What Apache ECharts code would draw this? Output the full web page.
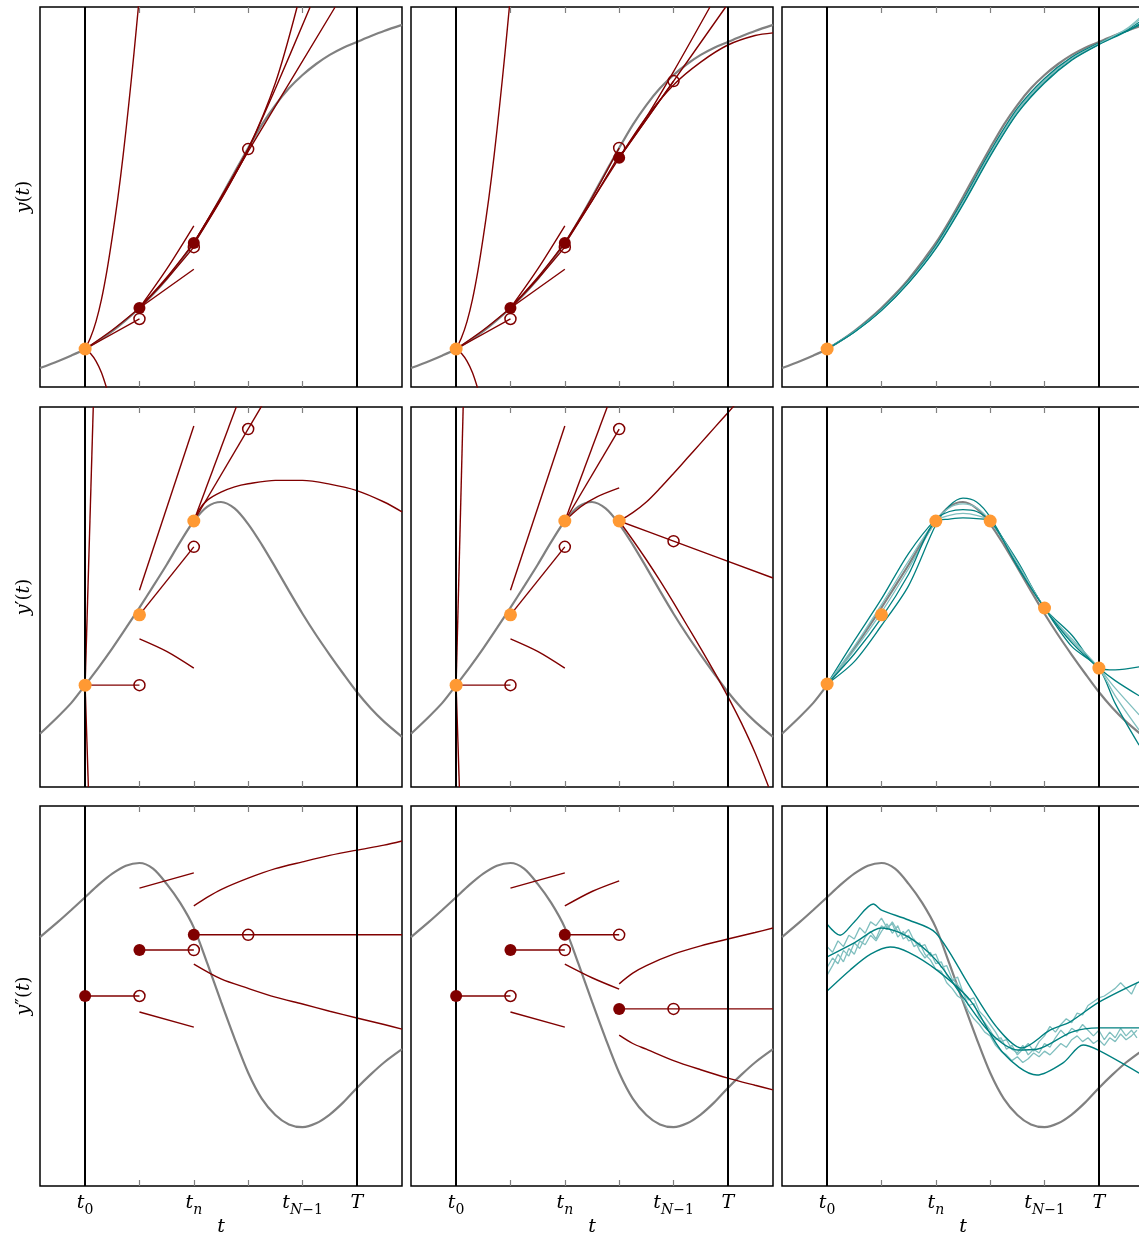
<!DOCTYPE html>
<html><head><meta charset="utf-8">
<script src="https://cdn.jsdelivr.net/npm/echarts@6/dist/echarts.min.js"></script>
<style>html,body{margin:0;padding:0;background:#fff}#c{width:1139px;height:1233px}</style>
</head><body><div id="c"></div>
<script>
// ---------- axis / label data ----------
const tRange = [-0.83, 5.83];
const tickValues = [1, 2, 3, 4];
const labelValues = [0, 2, 4, 5];
const tickLabels = ['{i|t}{s|0}', '{i|t}{si|n}', '{i|t}{si|N}{s|−1}', '{i|T}'];
const boundaryT = [0, 5];
const yNames = ['{i|y}{n|(}{i|t}{n|)}', '{i|y}{n|′(}{i|t}{n|)}', '{i|y}{n|″(}{i|t}{n|)}'];

// ---------- true solution (gray) ----------
const grayT  = [-0.83,-0.5,-0.25,0,0.25,0.5,0.75,1,1.25,1.5,1.75,2,2.25,2.5,2.75,3,3.25,3.5,3.75,4,4.25,4.5,4.75,5,5.25,5.5,5.83];
const grayY  = [0.50,0.68,0.83,1.0,1.22,1.47,1.76,2.08,2.44,2.84,3.3,3.79,4.37,5.0,5.65,6.29,6.9,7.42,7.86,8.21,8.5,8.74,8.93,9.08,9.23,9.37,9.53];
const grayDY = [1.40,1.85,2.22,2.68,3.15,3.65,4.18,4.72,5.28,5.85,6.45,7.0,7.38,7.5,7.33,6.92,6.38,5.78,5.16,4.56,4.0,3.48,2.98,2.5,2.08,1.72,1.32];
const grayDDY= [6.55,6.95,7.27,7.6,7.93,8.22,8.43,8.5,8.35,7.95,7.45,6.8,5.85,4.85,3.88,2.98,2.3,1.87,1.62,1.55,1.65,1.88,2.2,2.58,2.93,3.25,3.6];

// ---------- row 1 (y), column 1 ----------
const red00 = [
  [[0,1.0],[0.1,1.3],[0.2,1.72],[0.3,2.3],[0.4,3.05],[0.5,3.95],[0.6,4.95],[0.7,6.1],[0.8,7.4],[0.9,8.8],[1.0,10.3]],
  [[0,1.0],[0.1,0.88],[0.2,0.68],[0.3,0.38],[0.4,-0.05]],
  [[0,1.0],[1,1.79]],
  [[0,1.0],[0.5,1.5],[1,2.08]],
  [[1,2.08],[2,3.1]],
  [[1,2.08],[1.5,3.1],[2,4.24]],
  [[1,2.08],[1.5,2.88],[2,3.79]],
  [[1,2.08],[1.5,2.84],[2,3.68]],
  [[2,3.79],[2.5,4.98],[3,6.26]],
  [[2,3.76],[2.5,4.93],[3,6.22]],
  [[2,3.79],[2.5,4.95],[3,6.26],[3.5,8.0],[3.9,10]],
  [[2,3.79],[2.5,4.97],[3,6.26],[3.5,7.85],[4.14,10]],
  [[2,3.79],[3,6.2],[4.6,10]]
];
const orange00 = [[0,1.0]];
const filled00 = [[1,2.08],[2,3.79]];
const open00 = [[1,1.79],[2,3.68],[3,6.26]];

// ---------- row 1, column 2 ----------
const red01 = [
  [[0,1.0],[0.1,1.3],[0.2,1.72],[0.3,2.3],[0.4,3.05],[0.5,3.95],[0.6,4.95],[0.7,6.1],[0.8,7.4],[0.9,8.8],[1.0,10.3]],
  [[0,1.0],[0.1,0.88],[0.2,0.68],[0.3,0.38],[0.4,-0.05]],
  [[0,1.0],[1,1.79]],
  [[0,1.0],[0.5,1.5],[1,2.08]],
  [[1,2.08],[2,3.1]],
  [[1,2.08],[1.5,3.1],[2,4.24]],
  [[1,2.08],[1.5,2.88],[2,3.79]],
  [[1,2.08],[1.5,2.84],[2,3.68]],
  [[2,3.79],[2.5,4.9],[3,6.03]],
  [[2,3.79],[2.5,4.98],[3,6.29]],
  [[2,3.76],[2.5,4.9],[3,6.1]],
  [[3,6.03],[4,8.05]],
  [[3,6.03],[4,8.05],[4.96,10]],
  [[3,6.03],[3.5,7.1],[4,8.3],[4.67,10]],
  [[3,6.03],[3.5,7.1],[4,7.95],[4.5,8.55],[5,9.0],[5.5,9.25],[5.83,9.32]]
];
const orange01 = [[0,1.0]];
const filled01 = [[1,2.08],[2,3.79],[3,6.03]];
const open01 = [[1,1.79],[2,3.68],[3,6.29],[4,8.05]];

// ---------- row 1, column 3 (teal ensemble) ----------
const tealT0 = [0,0.5,1,1.5,2,2.5,3,3.5,4,4.5,5,5.5,5.74];
const tealY = [
  [1.0,1.45,2.02,2.75,3.66,4.83,6.1,7.22,8.03,8.62,9.02,9.38,9.6],
  [1.0,1.46,2.04,2.78,3.7,4.88,6.15,7.28,8.08,8.65,9.04,9.4,9.66],
  [1.0,1.46,2.05,2.8,3.73,4.92,6.2,7.33,8.12,8.68,9.05,9.36,9.52],
  [1.0,1.45,2.03,2.77,3.68,4.86,6.13,7.25,8.06,8.64,9.03,9.42,9.7],
  [1.0,1.44,2.01,2.74,3.64,4.8,6.07,7.2,8.0,8.6,9.01,9.35,9.55]
];
const tealYDark = [true,false,true,false,true];
const orange02 = [[0,1.0]];

// ---------- row 2 (y'), column 1 ----------
const red10 = [
  [[0,2.68],[0.15,10]],
  [[0,2.68],[0.06,0]],
  [[0,2.68],[1,2.68]],
  [[1,4.53],[2,6.32]],
  [[1,5.18],[2,9.5]],
  [[1,3.9],[1.5,3.57],[2,3.13]],
  [[2,7.0],[3.25,10.03]],
  [[2,7.0],[2.78,10]],
  [[2,7.0],[2.1,7.3],[2.25,7.55],[2.5,7.76],[2.75,7.9],[3,7.98],[3.5,8.07],[4,8.07],[4.5,7.97],[5,7.8],[5.5,7.5],[5.83,7.24]]
];
const orange10 = [[0,2.68],[1,4.53],[2,7.0]];
const open10 = [[1,2.68],[2,6.32],[3,9.42]];

// ---------- row 2, column 2 ----------
const red11 = [
  [[0,2.68],[0.13,10]],
  [[0,2.68],[0.06,0]],
  [[0,2.68],[1,2.68]],
  [[1,4.53],[2,6.32]],
  [[1,5.18],[2,9.5]],
  [[1,3.9],[1.5,3.57],[2,3.13]],
  [[2,7.0],[3,9.42]],
  [[2,7.0],[2.78,10]],
  [[2,7.0],[2.3,7.38],[2.6,7.64],[3,7.87]],
  [[3,7.0],[3.25,7.22],[3.5,7.5],[3.75,7.86],[4,8.25],[4.25,8.65],[4.5,9.05],[4.75,9.45],[5,9.85],[5.25,10.25]],
  [[3,7.0],[4,6.47],[5.83,5.5]],
  [[3,7.0],[3.25,6.5],[3.5,5.98],[3.75,5.43],[4,4.85],[4.25,4.25],[4.5,3.65],[4.75,3.03],[5,2.38],[5.25,1.68],[5.5,0.9],[5.75,0]]
];
const orange11 = [[0,2.68],[1,4.53],[2,7.0],[3,7.0]];
const open11 = [[1,2.68],[2,6.32],[3,9.42],[4,6.47]];

// ---------- row 2, column 3 (teal ensemble) ----------
const tealT1 = [0,0.5,1,1.5,2,2.25,2.5,2.75,3,3.5,4,4.5,5,5.3,5.74];
const tealDY = [
  [2.71,3.3,4.25,5.3,6.9,7.4,7.6,7.5,7.1,5.85,4.71,3.7,3.13,2.2,1.1],
  [2.71,3.6,4.6,5.75,7.0,7.35,7.45,7.35,7.0,5.9,4.71,3.85,3.13,2.6,1.9],
  [2.71,3.85,4.95,6.15,7.05,7.25,7.3,7.25,7.0,5.95,4.71,4.0,3.13,3.08,3.16],
  [2.71,3.7,4.8,5.95,7.0,7.15,7.2,7.15,7.0,5.9,4.71,3.9,3.13,2.4,1.5],
  [2.71,3.5,4.45,5.6,7.0,7.05,7.08,7.06,7.0,5.8,4.71,3.8,3.13,2.8,2.4]
];
const tealDYDark = [true,false,true,false,true];
const orange12 = [[0,2.71],[1,4.53],[2,7.0],[3,7.0],[4,4.71],[5,3.13]];

// ---------- row 3 (y''), column 1 ----------
const red20 = [
  [[0,5.0],[1,5.0]],
  [[1,6.21],[2,6.21]],
  [[2,6.61],[5.83,6.61]],
  [[1,7.84],[2,8.24]],
  [[1,4.58],[2,4.18]],
  [[2,7.37],[2.25,7.6],[2.5,7.8],[3,8.1],[3.5,8.35],[4,8.53],[4.5,8.7],[5,8.84],[5.5,8.97],[5.83,9.08]],
  [[2,5.84],[2.5,5.45],[3,5.2],[3.5,4.97],[4,4.79],[4.5,4.6],[5,4.42],[5.5,4.25],[5.83,4.13]]
];
const filled20 = [[0,5.0],[1,6.21],[2,6.61]];
const open20 = [[1,5.0],[2,6.21],[3,6.61]];

// ---------- row 3, column 2 ----------
const red21 = [
  [[0,5.0],[1,5.0]],
  [[1,6.21],[2,6.21]],
  [[2,6.61],[3,6.61]],
  [[3,4.66],[5.83,4.66]],
  [[1,7.84],[2,8.24]],
  [[1,4.58],[2,4.18]],
  [[2,7.37],[2.5,7.75],[3,8.03]],
  [[2,5.84],[2.5,5.48],[3,5.18]],
  [[3,5.32],[3.25,5.6],[3.5,5.8],[4,6.1],[4.5,6.32],[5,6.5],[5.5,6.67],[5.83,6.79]],
  [[3,3.97],[3.25,3.75],[3.5,3.6],[4,3.3],[4.5,3.06],[5,2.84],[5.5,2.65],[5.83,2.53]]
];
const filled21 = [[0,5.0],[1,6.21],[2,6.61],[3,4.66]];
const open21 = [[1,5.0],[2,6.21],[3,6.61],[4,4.66]];

// ---------- row 3, column 3 (teal: mean, band, noisy samples) ----------
const bandMid = [[0,6.03],[0.5,6.4],[1,6.79],[1.5,6.55],[2,5.95],[2.5,4.97],[3,4.03],[3.5,3.58],[3.86,3.6],[4.5,4.05],[5,4.16],[5.74,4.16]];
const bandUp  = [[0,6.89],[0.24,6.6],[0.5,6.95],[0.85,7.42],[1,7.26],[1.5,7.0],[2,6.66],[2.63,5.24],[3.12,4.18],[3.58,3.63],[4.1,4.1],[4.47,4.32],[4.98,4.82],[5.74,5.37]];
const bandLow = [[0,5.13],[0.42,5.68],[0.8,6.1],[1.16,6.29],[1.5,6.15],[2.02,5.68],[2.63,4.89],[3.24,3.5],[3.86,2.92],[4.34,3.24],[4.71,3.71],[4.98,3.58],[5.74,2.97]];
const noiseStep = 0.1;
const noisy1 = [5.75,6.0,5.85,6.2,6.05,6.4,6.25,6.55,6.7,6.5,6.85,6.75,6.95,6.7,6.6,6.75,6.45,6.3,6.35,6.05,6.1,5.75,5.8,5.45,5.3,5.1,4.75,4.8,4.45,4.3,4.1,3.85,3.9,3.6,3.7,3.45,3.6,3.75,3.55,3.8,3.95,4.2,4.05,4.25,4.4,4.3,4.55,4.5,4.75,4.85,4.95,5.0,5.1,5.2,5.35,5.2,5.05,5.35];
const noisy2 = [6.3,6.15,6.45,6.3,6.6,6.5,6.8,6.65,6.95,6.85,7.05,6.8,6.9,6.55,6.7,6.45,6.5,6.2,6.0,6.15,5.85,5.9,5.55,5.4,5.5,5.1,4.9,4.95,4.6,4.45,4.25,4.05,3.8,3.85,3.6,3.5,3.7,3.45,3.6,3.5,3.75,3.65,3.9,4.1,3.95,4.15,4.05,4.25,4.1,3.95,4.1,3.85,4.05,3.9,4.15,3.95,4.1,3.9];
const noisy3 = [5.55,5.8,6.1,5.9,6.25,6.1,6.45,6.35,6.6,6.45,6.7,6.9,6.65,6.85,6.5,6.6,6.3,6.4,6.1,5.95,5.7,5.65,5.35,5.2,5.0,4.9,4.6,4.4,4.25,4.05,3.95,3.7,3.55,3.45,3.3,3.4,3.25,3.35,3.5,3.4,3.55,3.45,3.6,3.75,3.65,3.85,3.95,3.8,3.9,3.75,3.85,3.7,3.9,3.8,4.0,3.85,3.95,4.1];

// ---------- colours ----------
const C = {gray:'#808080', red:'#800000', orange:'#ff9933', teal:'#008080', tealLight:'#80bfbf', black:'#000'};

// ---------- build ----------
const colLeft = [40, 411, 782], rowTop = [7, 407, 806], W = 362, H = 380;
const zip = (t, v) => t.map((x, i) => [x, v[i]]);
const grays = [zip(grayT, grayY), zip(grayT, grayDY), zip(grayT, grayDDY)];

const serif = 'DejaVu Serif';
const richLbl = {
  i:{fontFamily:serif, fontStyle:'italic', fontSize:19, lineHeight:28, verticalAlign:'middle', color:'#000'},
  s:{fontFamily:serif, fontSize:14, lineHeight:17, verticalAlign:'bottom', color:'#000'},
  si:{fontFamily:serif, fontStyle:'italic', fontSize:14, lineHeight:17, verticalAlign:'bottom', color:'#000'},
  n:{fontFamily:serif, fontSize:18, lineHeight:28, color:'#000'}
};

const grids = [], xAxes = [], xAxesTop = [], yAxes = [], series = [];
function addLine(i, data, color, width, smooth, z){
  series.push({type:'line', xAxisIndex:i, yAxisIndex:i, data, showSymbol:false, symbol:'none', smooth: smooth ? 0.3 : false,
    lineStyle:{color, width}, z, silent:true, clip:true});
}
function addScatter(i, data, kind){
  if (!data || !data.length) return;
  let st;
  if (kind === 'orange') st = {symbolSize:13, itemStyle:{color:C.orange, opacity:1}};
  else if (kind === 'filled') st = {symbolSize:12, itemStyle:{color:C.red, opacity:1}};
  else st = {symbolSize:11, itemStyle:{color:'rgba(255,255,255,0)', borderColor:C.red, borderWidth:1.5, opacity:1}};
  series.push(Object.assign({type:'scatter', xAxisIndex:i, yAxisIndex:i, data, z:6, silent:true}, st));
}

const panels = [
  {red:red00, orange:orange00, filled:filled00, open:open00},
  {red:red01, orange:orange01, filled:filled01, open:open01},
  {teal:tealY.map((v,k)=>({d:zip(tealT0,v), dark:tealYDark[k]})), orange:orange02},
  {red:red10, orange:orange10, open:open10},
  {red:red11, orange:orange11, open:open11},
  {teal:tealDY.map((v,k)=>({d:zip(tealT1,v), dark:tealDYDark[k]})), orange:orange12},
  {red:red20, filled:filled20, open:open20},
  {red:red21, filled:filled21, open:open21},
  {band:true}
];

for (let r = 0; r < 3; r++) for (let c = 0; c < 3; c++) {
  const i = r*3 + c;
  grids.push({left:colLeft[c], top:rowTop[r], width:W, height:H, show:true, borderColor:'#000', borderWidth:1.5,
    backgroundColor:'rgba(0,0,0,0)', containLabel:false, outerBoundsMode:'none'});
  const tick = {show:true, inside:true, length:6, customValues:tickValues, lineStyle:{color:C.gray, width:1.2}};
  xAxes.push({gridIndex:i, type:'value', min:tRange[0], max:tRange[1], position:'bottom',
    axisLine:{show:false}, splitLine:{show:false}, axisTick:tick,
    axisLabel:{show: r===2, customValues:labelValues, margin:3,
      formatter:(v)=>{const k = labelValues.indexOf(Math.round(v*100)/100); return k>=0 ? tickLabels[k] : '';}, rich:richLbl},
    name: r===2 ? 't' : '', nameLocation:'middle', nameGap:28,
    nameTextStyle:{fontFamily:serif, fontStyle:'italic', fontSize:19, color:'#000'}});
  xAxesTop.push({gridIndex:i, type:'value', min:tRange[0], max:tRange[1], position:'top',
    axisLine:{show:false}, splitLine:{show:false}, axisTick:tick, axisLabel:{show:false}});
  yAxes.push({gridIndex:i, type:'value', min:0, max:10, axisLine:{show:false}, axisTick:{show:false},
    axisLabel:{show:false}, splitLine:{show:false},
    name: c===0 ? yNames[r] : '', nameLocation:'middle', nameGap:2, nameRotate:90,
    nameTextStyle:{rich:richLbl}});

  addLine(i, grays[r], C.gray, 2.2, true, 2);
  series.push({type:'line', xAxisIndex:i, yAxisIndex:i, data:[[boundaryT[0], 0]], symbol:'none', showSymbol:false,
    lineStyle:{width:0}, z:4, silent:true,
    markLine:{silent:true, symbol:['none','none'], animation:false, label:{show:false},
      lineStyle:{color:C.black, width:2, type:'solid'},
      data: boundaryT.map(t => ({xAxis:t}))}});
  const p = panels[i];
  if (p.red) p.red.forEach(d => addLine(i, d, C.red, 1.4, d.length > 2, 3));
  if (p.teal) p.teal.forEach(o => addLine(i, o.d, o.dark ? C.teal : C.tealLight, 1.3, true, 3));
  if (p.band) {
    const nt = (arr) => arr.map((v, k) => [Math.round(k*noiseStep*10)/10, v]);
    [noisy1, noisy2, noisy3].forEach(a => addLine(i, nt(a), C.tealLight, 1.3, false, 3));
    [bandMid, bandUp, bandLow].forEach(a => addLine(i, a, C.teal, 1.4, true, 3));
  }
  addScatter(i, p.open, 'open');
  addScatter(i, p.filled, 'filled');
  addScatter(i, p.orange, 'orange');
}

const chart = echarts.init(document.getElementById('c'), null, {renderer:'canvas'});
chart.setOption({
  animation:false,
  backgroundColor:'#fff',
  grid:grids,
  xAxis:xAxes.concat(xAxesTop),
  yAxis:yAxes,
  series
});
</script></body></html>
